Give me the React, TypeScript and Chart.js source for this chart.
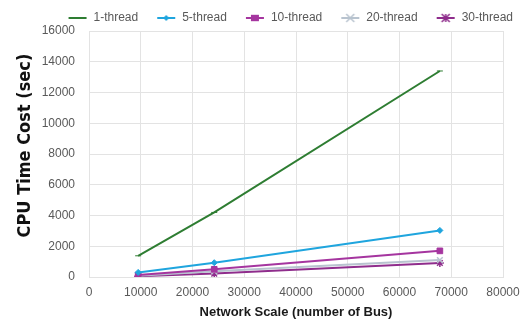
import React, { useEffect, useRef } from "react";
import { Chart, registerables } from "chart.js";

Chart.register(...registerables);

const busCounts = [9500, 24200, 67800];
const seriesNames = ["1-thread", "5-thread", "10-thread", "20-thread", "30-thread"];
const thread1 = [1380, 4200, 13400];
const thread5 = [300, 930, 3030];
const thread10 = [130, 500, 1700];
const thread20 = [80, 370, 1100];
const thread30 = [50, 220, 910];
const seriesColors = ["#2e7d32", "#1fa5de", "#a5359f", "#b8c3cf", "#8f2d8c"];
const pointStyles = ["line", "rectRot", "rect", "crossRot", "star"];
const pointRadii = [3, 3, 4, 4, 4];

function makeLegendIcon(color: string, style: string, radius: number) {
  const c = document.createElement("canvas");
  c.width = 20;
  c.height = 10;
  const ctx = c.getContext("2d")!;
  ctx.strokeStyle = color;
  ctx.fillStyle = color;
  ctx.lineWidth = 2;
  ctx.beginPath();
  ctx.moveTo(1, 5);
  ctx.lineTo(19, 5);
  ctx.stroke();
  const cx = 10, cy = 5, r = radius;
  ctx.lineWidth = 1.5;
  if (style === "rectRot") {
    ctx.beginPath();
    ctx.moveTo(cx, cy - r);
    ctx.lineTo(cx + r, cy);
    ctx.lineTo(cx, cy + r);
    ctx.lineTo(cx - r, cy);
    ctx.closePath();
    ctx.fill();
  } else if (style === "rect") {
    ctx.fillRect(cx - r, cy - r * 0.8, r * 2, r * 1.6);
  } else if (style === "crossRot" || style === "star") {
    ctx.beginPath();
    ctx.moveTo(cx - r, cy - r);
    ctx.lineTo(cx + r, cy + r);
    ctx.moveTo(cx + r, cy - r);
    ctx.lineTo(cx - r, cy + r);
    if (style === "star") {
      ctx.moveTo(cx, cy - r);
      ctx.lineTo(cx, cy + r);
    }
    ctx.stroke();
  }
  return c;
}

const legendTweakPlugin = {
  id: "legendTweak",
  afterInit(chart: any) {
    const lg = chart.legend;
    if (!lg) return;
    const origFit = lg.fit.bind(lg);
    lg.fit = function () {
      origFit();
      this.height = 31;
    };
    const origDraw = lg.draw.bind(lg);
    lg.draw = function () {
      const ctx = chart.ctx;
      ctx.save();
      ctx.translate(8, -6);
      origDraw();
      ctx.restore();
    };
  },
};

export default function App() {
  const ref = useRef<HTMLCanvasElement>(null);
  useEffect(() => {
    document.body.style.margin = "0";
    const all = [thread1, thread5, thread10, thread20, thread30];
    const icons = seriesNames.map((_, i) => makeLegendIcon(seriesColors[i], pointStyles[i], pointRadii[i]));
    const chart = new Chart(ref.current!, {
      type: "line",
      data: {
        datasets: seriesNames.map((name, i) => ({
          label: name,
          data: busCounts.map((x, j) => ({ x, y: all[i][j] })),
          borderColor: seriesColors[i],
          backgroundColor: seriesColors[i],
          borderWidth: 2,
          pointStyle: pointStyles[i] as any,
          pointRadius: pointRadii[i],
          pointBorderWidth: i >= 3 ? 1.5 : 1,
          pointBorderColor: seriesColors[i],
          pointBackgroundColor: seriesColors[i],
          tension: 0,
        })),
      },
      plugins: [legendTweakPlugin],
      options: {
        animation: false,
        responsive: false,
        devicePixelRatio: 1,
        layout: { padding: { top: 0, right: 0, left: 0, bottom: 0 } },
        plugins: {
          tooltip: { enabled: false },
          legend: {
            position: "top",
            align: "end",
            labels: {
              usePointStyle: true,
              pointStyleWidth: 20,
              boxHeight: 10,
              padding: 18,
              color: "#595959",
              font: { family: "'Liberation Sans', Arial, sans-serif", size: 12 },
              generateLabels: (ch: any) =>
                ch.data.datasets.map((d: any, i: number) => ({
                  text: d.label,
                  pointStyle: icons[i],
                  fillStyle: seriesColors[i],
                  strokeStyle: seriesColors[i],
                  lineWidth: 0,
                  fontColor: "#595959",
                  hidden: false,
                  datasetIndex: i,
                })),
            },
          },
        },
        scales: {
          x: {
            type: "linear",
            min: 0,
            max: 80000,
            ticks: {
              stepSize: 10000,
              color: "#595959",
              padding: 8,
              font: { family: "'Liberation Sans', Arial, sans-serif", size: 12 },
              maxRotation: 0,
              callback: (v: any) => String(v),
            },
            grid: { color: "#e3e3e3", drawTicks: false },
            border: { color: "#e3e3e3" },
            title: {
              display: true,
              text: "Network Scale (number of Bus)",
              color: "#1a1a1a",
              font: { family: "'Liberation Sans', Arial, sans-serif", size: 13, weight: "bold" },
              padding: { top: 5, bottom: 0 },
            },
            afterFit: (s: any) => {
              s.height = 43;
              s.paddingRight = 20;
            },
          },
          y: {
            type: "linear",
            min: 0,
            max: 16000,
            ticks: {
              stepSize: 2000,
              color: "#595959",
              padding: 14,
              font: { family: "'Liberation Sans', Arial, sans-serif", size: 12 },
              callback: (v: any) => String(v),
            },
            grid: { color: "#e3e3e3", drawTicks: false },
            border: { color: "#e3e3e3" },
            title: {
              display: true,
              text: "\u00a0\u00a0\u00a0CPU Time Cost (sec)",
              color: "#111",
              font: { family: "'DejaVu Sans Condensed', 'Liberation Sans', Arial, sans-serif", size: 18, weight: "bold" },
              padding: { top: 15, bottom: 0 },
            },
            afterFit: (s: any) => {
              s.width = 89;
            },
          },
        },
      },
    });
    return () => chart.destroy();
  }, []);
  return (
    <div style={{ width: 523, height: 320, position: "relative" }}>
      <canvas ref={ref} width={523} height={320} style={{ display: "block" }} />
    </div>
  );
}
